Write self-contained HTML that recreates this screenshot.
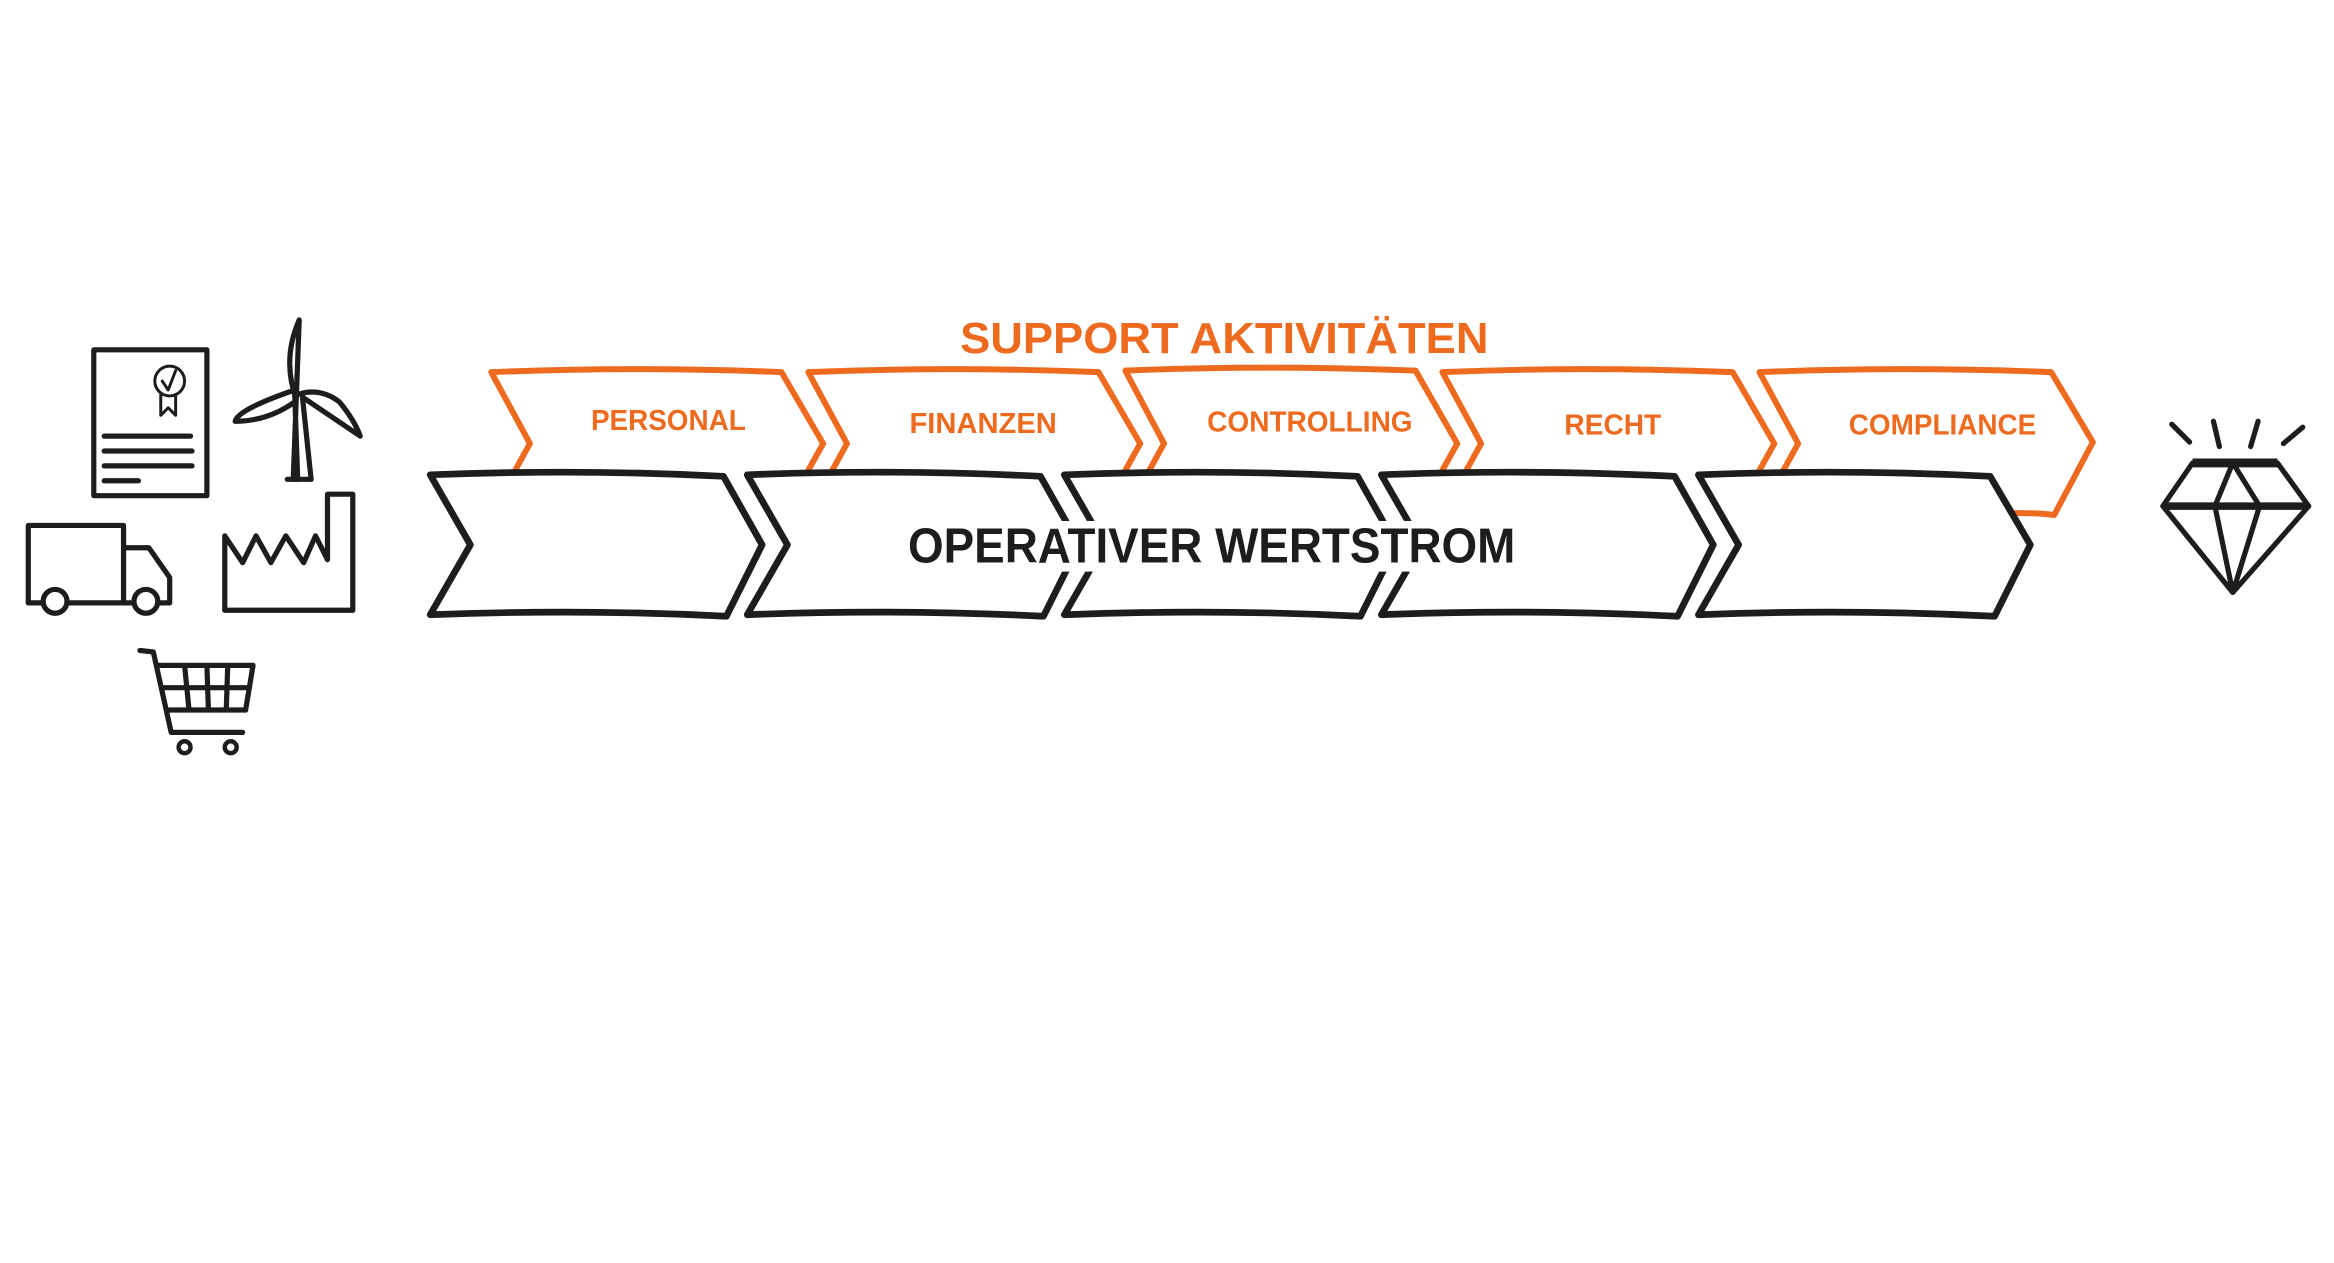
<!DOCTYPE html>
<html><head><meta charset="utf-8"><style>
html,body{margin:0;padding:0;background:#fff;width:2334px;height:1263px;overflow:hidden}
svg{display:block}
text{font-family:"Liberation Sans",sans-serif;font-weight:bold}
</style></head><body>
<svg width="2334" height="1263" viewBox="0 0 1568 848.5" preserveAspectRatio="none" xmlns="http://www.w3.org/2000/svg">
<rect width="1568" height="848.5" fill="#fff"/>
<text x="645" y="237" fill="#ee6a1f" font-size="29" textLength="355" lengthAdjust="spacingAndGlyphs">SUPPORT AKTIVITÄTEN</text>
<g fill="none" stroke="#ee6a1f" stroke-width="4" stroke-linejoin="round" stroke-linecap="round">
<path d="M345,318 L356,298 L330,250 Q430,246 525,250 L553,298 L543,316"/>
<path d="M558,318 L569,298 L543,250 Q640,246 738,250 L766,298 L756,316"/>
<path d="M771,318 L782,298 L756,249 Q850,245 951,249 L979,298 L969,316"/>
<path d="M984,318 L995,298 L969,250 Q1065,246 1164,250 L1192,298 L1182,316"/>
<path d="M1197,318 L1208,298 L1182,250 Q1280,246 1378,250 L1406,297 L1380,346 Q1365,344 1340,345"/>
</g>
<g fill="#ee6a1f" font-size="19">
<text x="397" y="289" textLength="104" lengthAdjust="spacingAndGlyphs">PERSONAL</text>
<text x="611" y="291" textLength="99" lengthAdjust="spacingAndGlyphs">FINANZEN</text>
<text x="811" y="290" textLength="138" lengthAdjust="spacingAndGlyphs">CONTROLLING</text>
<text x="1051" y="292" textLength="65" lengthAdjust="spacingAndGlyphs">RECHT</text>
<text x="1242" y="292" textLength="126" lengthAdjust="spacingAndGlyphs">COMPLIANCE</text>
</g>
<g fill="#fff" stroke="#1d1d1b" stroke-width="4.5" stroke-linejoin="round">
<path d="M289,319 Q390,315 486,320 L512,366 L488,414 Q390,409 289,413 L316,366 Z"/>
<path d="M502,319 Q600,315 699,320 L725,366 L701,414 Q600,409 502,413 L529,366 Z"/>
<path d="M715,319 Q815,315 912,320 L938,366 L914,414 Q815,409 715,413 L742,366 Z"/>
<path d="M928,319 Q1025,315 1125,320 L1151,366 L1127,414 Q1025,409 928,413 L955,366 Z"/>
<path d="M1141,319 Q1240,315 1337,320 L1364,366 L1340,414 Q1240,409 1141,413 L1168,366 Z"/>
</g>
<rect x="600" y="350" width="425" height="34" fill="#fff"/>
<text x="610" y="378" fill="#1d1d1b" font-size="33" textLength="408" lengthAdjust="spacingAndGlyphs">OPERATIVER WERTSTROM</text>
<g fill="none" stroke="#1d1d1b" stroke-width="3.5" stroke-linecap="round" stroke-linejoin="round">
<rect x="63" y="235" width="76" height="98"/>
<circle cx="114" cy="256" r="10" stroke-width="2"/>
<path d="M109,256 L113,262 L118,249 M108,265 L108,279 L113,274 L118,279 L118,265" stroke-width="2"/>
<path d="M70,293 L128,293 M70,303 L129,303 M70,313 L129,313 M70,323 L93,323"/>
<path d="M197,322 L201,215 Q190,240 198,265 L200,322 Z M209,322 L203,265"/>
<path d="M193,322 L209,322"/>
<path d="M200,265 Q215,260 228,270 Q238,282 242,293 L205,268"/>
<path d="M198,270 Q180,283 158,283 Q160,275 198,262"/>
<path d="M19,353 L83,353 L83,405 L19,405 Z M83,368 L100,368 L114,388 L114,405 L83,405"/>
<circle cx="37" cy="404" r="8" fill="#fff"/>
<circle cx="98" cy="404" r="8" fill="#fff"/>
<path d="M151,410 L151,360 L163,378 L172,360 L182,378 L192,360 L204,378 L212,360 L220,376 L220,332 L237,332 L237,410 Z"/>
<path d="M94,437 L103,438 L115,492 L163,492 M107,447 L170,447 L165,477 L113,477 M110,462 L167,462 M124,447 L127,477 M139,447 L140,477 M153,447 L152,477"/>
<circle cx="124" cy="502" r="4" stroke-width="3"/>
<circle cx="155" cy="502" r="4" stroke-width="3"/>
<path d="M1473,311 L1530,311 L1551,340 L1500,398 L1453,340 Z M1453,340 L1551,340 M1500,311 L1488,340 L1500,398 L1518,340 L1500,311"/>
<path d="M1459,285 L1471,297 M1487,283 L1491,300 M1517,283 L1512,300 M1547,287 L1534,298"/>
</g>
<path d="M1473,311 L1530,311" stroke="#1d1d1b" stroke-width="6"/>
<path d="M1453,340 L1551,340" stroke="#1d1d1b" stroke-width="5"/>
</svg>
</body></html>
